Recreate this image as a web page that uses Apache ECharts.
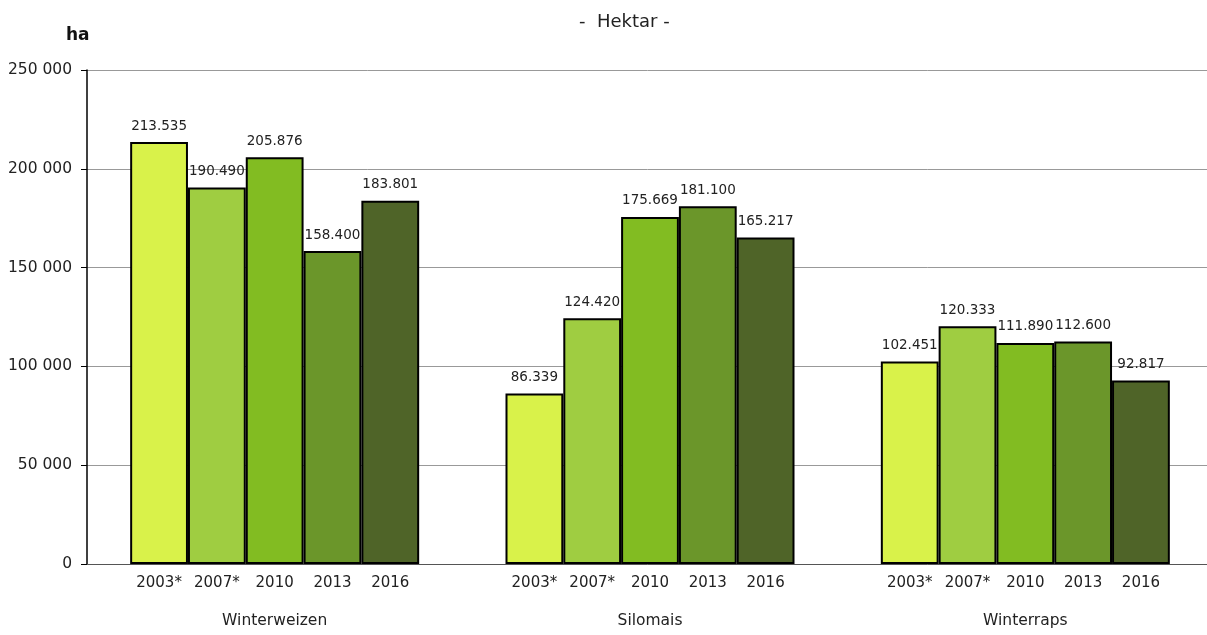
<!DOCTYPE html>
<html><head><meta charset="utf-8">
<script src="https://cdn.jsdelivr.net/npm/echarts@6/dist/echarts.min.js"></script>
<style>html,body{margin:0;padding:0;background:#fff}#c{width:1207px;height:635px}</style>
</head><body><div id="c"></div>
<script>
const categories = ['Winterweizen', 'Silomais', 'Winterraps'];
const years = ['2003*', '2007*', '2010', '2013', '2016'];
const v2003 = [213535, 86339, 102451];
const v2007 = [190490, 124420, 120333];
const v2010 = [205876, 175669, 111890];
const v2013 = [158400, 181100, 112600];
const v2016 = [183801, 165217, 92817];
const yTicks = [0, 50000, 100000, 150000, 200000, 250000];
const colors = ['#D9F24A', '#9FCD41', '#82BC22', '#6B962A', '#4F6428'];
const values = [v2003, v2007, v2010, v2013, v2016];
const FONT = '"DejaVu Sans", sans-serif';

const fmtDot = v => String(v).replace(/\B(?=(\d{3})+(?!\d))/g, '.');
const fmtSpace = v => String(v).replace(/\B(?=(\d{3})+(?!\d))/g, ' ');

const series = [];
years.forEach((y, i) => {
  series.push({
    name: y, type: 'bar', xAxisIndex: 0, data: values[i],
    barGap: '0%', barCategoryGap: '23%',
    itemStyle: { color: colors[i], borderColor: '#000', borderWidth: 2 },
    label: { show: true, position: 'top', distance: 9, formatter: p => fmtDot(p.value),
      fontFamily: FONT, fontSize: 13.5, color: '#222' },
    z: 2
  });
});
years.forEach((y, i) => {
  series.push({
    name: y + ' ', type: 'bar', xAxisIndex: 1, data: values[i],
    barGap: '0%', barCategoryGap: '23%',
    itemStyle: { color: 'rgba(0,0,0,0)', borderWidth: 0 },
    label: { show: true, position: 'bottom', distance: 12, formatter: () => y,
      fontFamily: FONT, fontSize: 15, color: '#222' },
    silent: true, z: 1
  });
});

const chart = echarts.init(document.getElementById('c'));
chart.setOption({
  animation: false,
  backgroundColor: '#fff',
  title: { text: '-  Hektar -', left: 574, top: 8,
    textStyle: { fontFamily: FONT, fontSize: 18, fontWeight: 'normal', color: '#222' } },
  graphic: [{ type: 'text', left: 66, top: 27,
    style: { text: 'ha', font: 'bold 17px "DejaVu Sans", sans-serif', fill: '#111' } }],
  grid: { left: 87, top: 70, width: 1126, height: 494, containLabel: false, outerBoundsMode: 'none' },
  xAxis: [
    { type: 'category', data: categories,
      axisLine: { show: true, lineStyle: { color: '#555', width: 1 } },
      axisTick: { show: false },
      axisLabel: { margin: 49, fontFamily: FONT, fontSize: 15.5, color: '#222' } },
    { type: 'category', data: categories, position: 'bottom', show: false }
  ],
  yAxis: {
    type: 'value', min: 0, max: 250000, interval: 50000,
    axisLine: { show: true, lineStyle: { color: '#000', width: 1.5 } },
    axisTick: { show: true, length: 6, lineStyle: { color: '#000' } },
    axisLabel: { margin: 15, fontFamily: FONT, fontSize: 15.5, color: '#222', formatter: v => fmtSpace(v) },
    splitLine: { show: true, lineStyle: { color: '#999', width: 1 } }
  },
  series: series
});
</script></body></html>
